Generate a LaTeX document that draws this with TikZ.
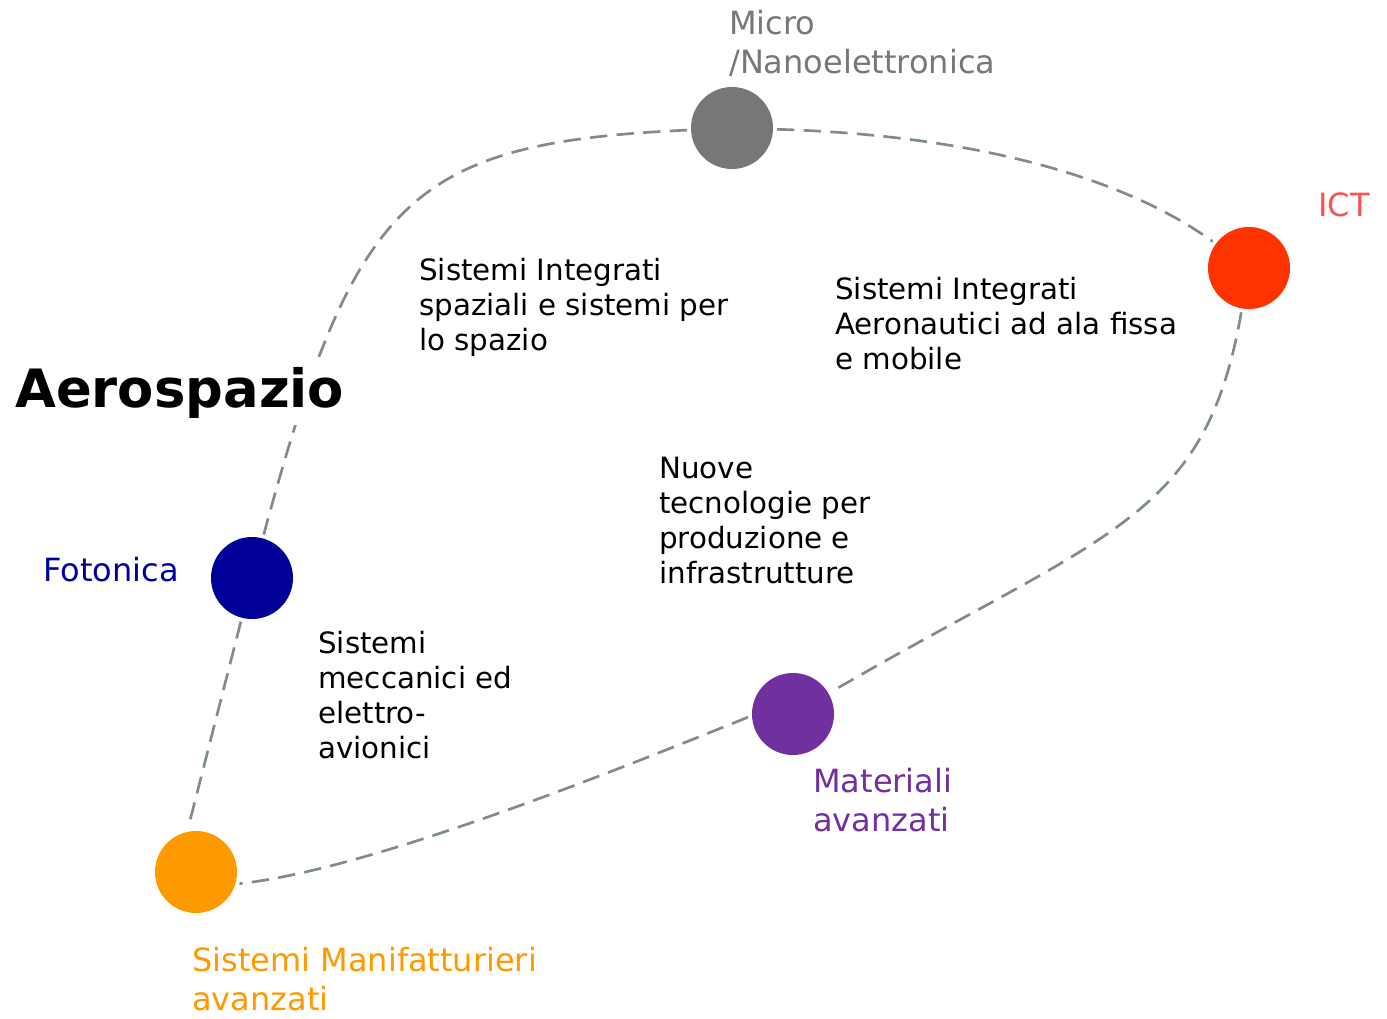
\documentclass[tikz,border=0pt]{standalone}
\usepackage{fontspec}
\setmainfont{DejaVu Sans}
\usetikzlibrary{
    arrows.meta,
    positioning
}
\definecolor{tikzgray}{RGB}{119,119,119}
\definecolor{tikzred}{RGB}{255,51,0}
\definecolor{tikzpink}{RGB}{255,80,80}
\definecolor{tikzblue}{RGB}{0,0,153}
\definecolor{tikzorange}{RGB}{255,153,0}
\definecolor{tikzpurple}{RGB}{112,48,160}
\definecolor{linkgray}{RGB}{127,139,145}

\begin{document}
\begin{tikzpicture}[x=0.75pt, y=-0.75pt,
        hub/.style={circle, minimum size=61.5pt, inner sep=0pt, outer sep=3pt},
        link/.style={linkgray, line width=2pt, dash pattern=on 13pt off 7pt},
        area/.style={anchor=north west, inner sep=0pt, align=left, font=\fontsize{22}{26.25}\selectfont},
        tag/.style={anchor=north west, inner sep=0pt, align=left, font=\fontsize{24}{29.25}\selectfont}]
        \useasboundingbox (0,0) rectangle (1387,1018);

        % Technology hubs
        \node[hub, fill=tikzgray] (micro) at (732,128) {};
        \node[hub, fill=tikzred] (ict) at (1249,268) {};
        \node[hub, fill=tikzblue] (foto) at (252,578) {};
        \node[hub, fill=tikzpurple] (mat) at (793,714) {};
        \node[hub, fill=tikzorange] (man) at (196,872) {};

        % Hub labels
        \node[tag, tikzgray] (microlbl) at (729,10) {Micro\\/Nanoelettronica};
        \node[tag, tikzpink] (ictlbl) at (1318,192) {ICT};
        \node[tag, tikzblue] (fotolbl) at (43,557) {Fotonica};
        \node[tag, tikzpurple] (matlbl) at (813,768) {Materiali\\avanzati};
        \node[tag, tikzorange] (manlbl) at (192,947) {Sistemi Manifatturieri\\avanzati};

        % Dashed ring
        \draw[link] (micro) .. controls (410,143) and (355,197) .. (foto);
        \draw[link] (micro) .. controls (973,135) and (1124,177) .. (ict);
        \draw[link] (ict) .. controls (1205,520) and (1110,530) .. (mat);
        \draw[link] (mat.184) .. controls (580,785) and (363,870) .. (man.-15);
        \draw[link] (foto) -- (man.100);

        % Title
        \node[anchor=base west, inner xsep=0pt, inner ysep=5pt, fill=white,
            font=\fontsize{39.6}{47}\selectfont\bfseries] (aero) at (15,407) {Aerospazio};

        % Areas
        \node[area] (spazio) at (419,258) {Sistemi Integrati\\spaziali e sistemi per\\lo spazio};
        \node[area] (aeronautici) at (835,277) {Sistemi Integrati\\Aeronautici ad ala fissa\\e mobile};
        \node[area] (nuove) at (659,457) {Nuove\\tecnologie per\\produzione e\\infrastrutture};
        \node[area] (meccanici) at (318,631) {Sistemi\\meccanici ed\\elettro-\\avionici};
\end{tikzpicture}
\end{document}
